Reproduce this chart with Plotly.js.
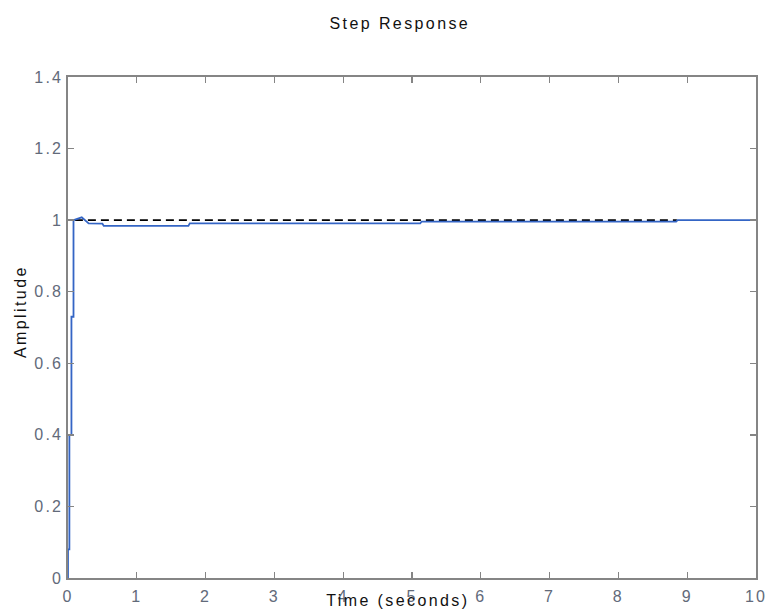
<!DOCTYPE html>
<html>
<head>
<meta charset="utf-8">
<script src="https://cdn.plot.ly/plotly-3.0.1.min.js"></script>
<style>
html,body{margin:0;padding:0;background:#fff;}
#chart{width:766px;height:609px;}
#chart .gtitle, #chart .annotation-text{letter-spacing:2.4px;}
#chart .xtick text, #chart .ytick text{letter-spacing:2.2px;}
</style>
</head>
<body>
<div id="chart"></div>
<script>
// Step response samples (time in seconds, amplitude)
const timeSec = [0, 0, 0.02, 0.02, 0.05, 0.05, 0.08, 0.08, 0.2, 0.3, 0.5, 0.52, 1.75, 1.77, 5.12, 5.14, 8.84, 8.86, 10];
const amplitude = [0, 0.08, 0.08, 0.40, 0.40, 0.73, 0.73, 1.0, 1.008, 0.991, 0.99, 0.984, 0.984, 0.991, 0.991, 0.996, 0.996, 1.0, 1.0];
// Steady-state reference line
const refTime = [0.1, 8.85];
const refValue = [1, 1];
const xTicks = [0, 1, 2, 3, 4, 5, 6, 7, 8, 9, 10];
const yTicks = [0, 0.2, 0.4, 0.6, 0.8, 1, 1.2, 1.4];
const yTickText = ['0', '0.2', '0.4', '0.6', '0.8', '1', '1.2', '1.4'];

const FONT = 'Liberation Sans, Arial, sans-serif';
const axisCommon = {
  showgrid: false, zeroline: false,
  showline: true, linecolor: '#858585', linewidth: 1.6,
  mirror: 'allticks', ticks: 'inside', ticklen: 6, tickwidth: 1.3, tickcolor: '#858585',
  tickfont: {family: FONT, size: 16, color: '#626a7a'}
};

const data = [
  {x: refTime, y: refValue, type: 'scatter', mode: 'lines',
   line: {color: '#000000', width: 1.6, dash: '8px,5px'}, hoverinfo: 'skip'},
  {x: timeSec, y: amplitude, type: 'scatter', mode: 'lines',
   line: {color: '#3465c5', width: 1.8}}
];

const layout = {
  width: 766, height: 609,
  margin: {l: 68, r: 10, t: 77, b: 31},
  paper_bgcolor: '#ffffff', plot_bgcolor: '#ffffff',
  showlegend: false,
  title: {text: 'Step Response', x: 0.522, xanchor: 'center', y: 0.962, yanchor: 'middle',
          font: {family: FONT, size: 16, color: '#111111'}},
  xaxis: Object.assign({}, axisCommon, {range: [0, 10], tickvals: xTicks, ticktext: xTicks.map(String), ticklabelstandoff: 3}),
  yaxis: Object.assign({}, axisCommon, {range: [0, 1.4], tickvals: yTicks, ticktext: yTickText}),
  annotations: [
    {text: 'Time (seconds)', xref: 'paper', yref: 'paper', x: 0.48, y: -0.044, xanchor: 'center', yanchor: 'middle',
     showarrow: false, font: {family: FONT, size: 16, color: '#111111'}},
    {text: 'Amplitude', xref: 'paper', yref: 'paper', x: -0.068, y: 0.531, xanchor: 'center', yanchor: 'middle',
     textangle: -90, showarrow: false, font: {family: FONT, size: 16, color: '#111111'}}
  ]
};

Plotly.newPlot('chart', data, layout, {displayModeBar: false, staticPlot: true});
</script>
</body>
</html>
